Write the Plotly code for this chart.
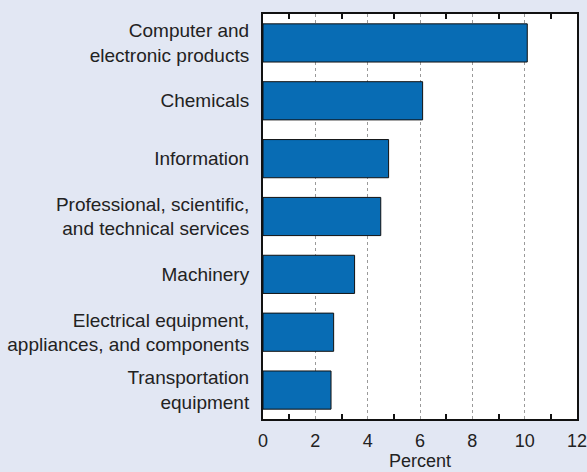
import plotly.graph_objects as go

categories = [
    "Computer and<br>electronic products",
    "Chemicals",
    "Information",
    "Professional, scientific,<br>and technical services",
    "Machinery",
    "Electrical equipment,<br>appliances, and components",
    "Transportation<br>equipment",
]
values = [10.1, 6.1, 4.8, 4.5, 3.5, 2.7, 2.6]
x_ticks = [0, 2, 4, 6, 8, 10, 12]
x_minor = [1, 3, 5, 7, 9, 11]

BG = "#e2e7f3"
BAR = "#086cb4"
FONT = "Liberation Sans, Arial, Helvetica, sans-serif"
FS = 19
TFS = 18

fig = go.Figure()
fig.add_trace(go.Bar(
    y=categories, x=values, orientation="h",
    marker=dict(color=BAR, line=dict(color="#111", width=1)),
    width=0.66,
))

fig.update_layout(
    width=587, height=472,
    paper_bgcolor=BG, plot_bgcolor="white",
    margin=dict(l=263, r=10, t=14, b=53, autoexpand=False),
    font=dict(family=FONT, size=FS, color="#222"),
    showlegend=False,
    xaxis=dict(
        range=[0, 12], tickvals=x_ticks, ticks="",
        showgrid=True, gridcolor="#9a9a9a", griddash="dot", gridwidth=1,
        zeroline=False,
        showline=True, linecolor="#111", linewidth=2, mirror="allticks",
        minor=dict(tickvals=x_minor, ticks="inside", ticklen=5,
                   tickcolor="#111", tickwidth=1.5, showgrid=False),
        title=dict(text="Percent", standoff=2, font=dict(size=TFS)),
        tickfont=dict(size=TFS),
        ticklabelstandoff=4,
        ticklabeloverflow="allow",
        automargin=False,
    ),
    yaxis=dict(
        autorange="reversed", showgrid=False, zeroline=False,
        showline=True, linecolor="#111", linewidth=2, mirror=True,
        ticks="", ticklabelstandoff=8, tickfont=dict(size=FS),
        automargin=False,
    ),
)

fig.write_html("out.html", config={"displayModeBar": False},
               post_script="document.body.style.margin='0';")
